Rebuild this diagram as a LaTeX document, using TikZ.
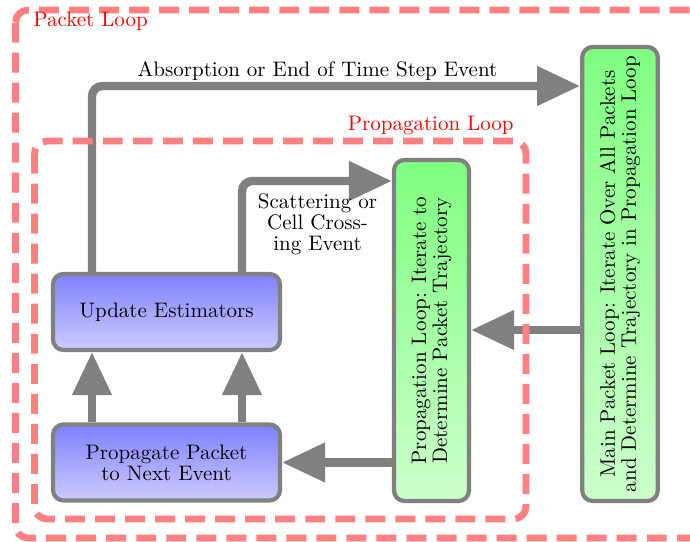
\documentclass[tikz,border=0pt]{standalone}
\usetikzlibrary{arrows.meta}
\begin{document}
\begin{tikzpicture}[x=0.47619pt,y=-0.47619pt,
  box/.style={draw=gray, line width=2pt, rounded corners=5pt, inner sep=2pt, align=center, font=\fontsize{10}{10}\selectfont},
  bluebox/.style={box, top color=blue!50, bottom color=blue!20, minimum width=108.1pt, minimum height=36.2pt},
  greenbox/.style={box, rotate=90, top color=green!50, bottom color=green!20},
  flow/.style={draw=gray, line width=4pt, rounded corners=5pt, -{Triangle[length=20.5pt,width=18pt]}},
  loopframe/.style={draw=red!50, line width=3.3pt, dash pattern=on 9.5pt off 4.8pt, rounded corners=6pt},
  looplabel/.style={text=red, inner sep=0pt, font=\fontsize{10}{12}\selectfont},
  evlabel/.style={align=center, inner sep=0pt, font=\fontsize{10}{10}\selectfont}]
\clip (0,0) rectangle (690,542);
% boxes
\node[bluebox] (upd) at (166.5,312) {Update Estimators};
\node[bluebox] (pp) at (166.5,462.5) {Propagate Packet\\to Next Event};
\node[greenbox, minimum width=162.4pt, minimum height=35.7pt] (prop) at (431.5,330.5) {Propagation Loop: Iterate to\\Determine Packet Trajectory};
\node[greenbox, minimum width=216.2pt, minimum height=36pt] (main) at (620,274) {Main Packet Loop: Iterate Over All Packets\\and Determine Trajectory in Propagation Loop};
% helper coordinates
\coordinate (xl) at (92,0);
\coordinate (xr) at (242,0);
\coordinate (ytop) at (0,86);
\coordinate (yscat) at (0,181);
\coordinate (ymid) at (0,330);
% connectors
\draw[flow] (upd.north -| xl) |- (main.north |- ytop);
\draw[flow] (upd.north -| xr) |- (prop.north |- yscat);
\draw[flow] (main.north |- ymid) -- (prop.south |- ymid);
\draw[flow] (prop.north |- pp.east) -- (pp.east);
\draw[flow] (pp.north -| xl) -- (upd.south -| xl);
\draw[flow] (pp.north -| xr) -- (upd.south -| xr);
% labels
\node[evlabel, anchor=base] (abs) at (317.5,77) {Absorption or End of Time Step Event};
\node[evlabel] (scat) at (317.5,224) {Scattering or\\Cell Cross-\\ing Event};
% loop frames
\draw[loopframe] (15.5,10) rectangle (710,538);
\draw[loopframe] (34.5,141) rectangle (526,519);
\node[looplabel, anchor=base west] (plab) at (33,27) {Packet Loop};
\node[looplabel, anchor=base east] (prlab) at (514,131) {Propagation Loop};
\end{tikzpicture}
\end{document}
